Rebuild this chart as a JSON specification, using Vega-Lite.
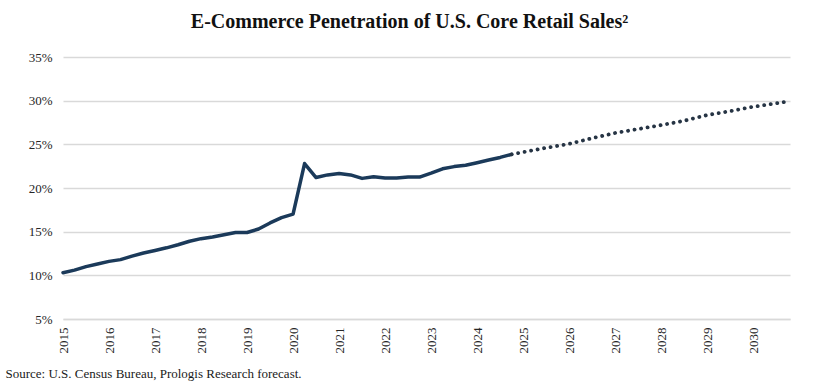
{
  "$schema": "https://vega.github.io/schema/vega-lite/v6.json",
  "autosize": {"type": "none"},
  "width": 727,
  "height": 262,
  "padding": {"top": 57, "left": 63, "right": 30, "bottom": 62},
  "background": "white",
  "title": {
    "text": "E-Commerce Penetration of U.S. Core Retail Sales²",
    "font": "Liberation Serif",
    "fontSize": 20,
    "fontWeight": "bold",
    "color": "#111111",
    "anchor": "middle",
    "dx": -17,
    "offset": 19
  },
  "config": {
    "view": {"stroke": null},
    "font": "Liberation Serif"
  },
  "data": {
    "values": [
      {"t": 2015.00, "v": 10.3, "s": "Actual"},
      {"t": 2015.25, "v": 10.6, "s": "Actual"},
      {"t": 2015.50, "v": 11.0, "s": "Actual"},
      {"t": 2015.75, "v": 11.3, "s": "Actual"},
      {"t": 2016.00, "v": 11.6, "s": "Actual"},
      {"t": 2016.25, "v": 11.8, "s": "Actual"},
      {"t": 2016.50, "v": 12.2, "s": "Actual"},
      {"t": 2016.75, "v": 12.55, "s": "Actual"},
      {"t": 2017.00, "v": 12.85, "s": "Actual"},
      {"t": 2017.25, "v": 13.15, "s": "Actual"},
      {"t": 2017.50, "v": 13.5, "s": "Actual"},
      {"t": 2017.75, "v": 13.9, "s": "Actual"},
      {"t": 2018.00, "v": 14.2, "s": "Actual"},
      {"t": 2018.25, "v": 14.4, "s": "Actual"},
      {"t": 2018.50, "v": 14.65, "s": "Actual"},
      {"t": 2018.75, "v": 14.9, "s": "Actual"},
      {"t": 2019.00, "v": 14.9, "s": "Actual"},
      {"t": 2019.25, "v": 15.3, "s": "Actual"},
      {"t": 2019.50, "v": 16.0, "s": "Actual"},
      {"t": 2019.75, "v": 16.6, "s": "Actual"},
      {"t": 2020.00, "v": 17.0, "s": "Actual"},
      {"t": 2020.25, "v": 22.8, "s": "Actual"},
      {"t": 2020.50, "v": 21.2, "s": "Actual"},
      {"t": 2020.75, "v": 21.5, "s": "Actual"},
      {"t": 2021.00, "v": 21.65, "s": "Actual"},
      {"t": 2021.25, "v": 21.5, "s": "Actual"},
      {"t": 2021.50, "v": 21.1, "s": "Actual"},
      {"t": 2021.75, "v": 21.3, "s": "Actual"},
      {"t": 2022.00, "v": 21.15, "s": "Actual"},
      {"t": 2022.25, "v": 21.15, "s": "Actual"},
      {"t": 2022.50, "v": 21.25, "s": "Actual"},
      {"t": 2022.75, "v": 21.25, "s": "Actual"},
      {"t": 2023.00, "v": 21.7, "s": "Actual"},
      {"t": 2023.25, "v": 22.2, "s": "Actual"},
      {"t": 2023.50, "v": 22.45, "s": "Actual"},
      {"t": 2023.75, "v": 22.6, "s": "Actual"},
      {"t": 2024.00, "v": 22.9, "s": "Actual"},
      {"t": 2024.25, "v": 23.2, "s": "Actual"},
      {"t": 2024.50, "v": 23.5, "s": "Actual"},
      {"t": 2024.75, "v": 23.85, "s": "Actual"},
      {"t": 2024.75, "v": 23.85, "s": "Forecast"},
      {"t": 2025.00, "v": 24.1, "s": "Forecast"},
      {"t": 2025.50, "v": 24.6, "s": "Forecast"},
      {"t": 2026.00, "v": 25.05, "s": "Forecast"},
      {"t": 2026.50, "v": 25.7, "s": "Forecast"},
      {"t": 2027.00, "v": 26.3, "s": "Forecast"},
      {"t": 2027.50, "v": 26.75, "s": "Forecast"},
      {"t": 2028.00, "v": 27.2, "s": "Forecast"},
      {"t": 2028.50, "v": 27.7, "s": "Forecast"},
      {"t": 2029.00, "v": 28.35, "s": "Forecast"},
      {"t": 2029.50, "v": 28.8, "s": "Forecast"},
      {"t": 2030.00, "v": 29.3, "s": "Forecast"},
      {"t": 2030.75, "v": 29.9, "s": "Forecast"}
    ]
  },
  "encoding": {
    "x": {
      "field": "t",
      "type": "quantitative",
      "scale": {"domain": [2015, 2030.8], "nice": false, "zero": false},
      "axis": {
        "values": [2015, 2016, 2017, 2018, 2019, 2020, 2021, 2022, 2023, 2024, 2025, 2026, 2027, 2028, 2029, 2030],
        "format": "d",
        "labelAngle": -90,
        "labelAlign": "right",
        "labelBaseline": "middle",
        "labelFont": "Liberation Serif",
        "labelFontSize": 13,
        "labelColor": "#262626",
        "labelPadding": 8,
        "labelOverlap": false,
        "ticks": false,
        "grid": false,
        "domainColor": "#d9d9d9",
        "domainWidth": 1.5,
        "title": "Source: U.S. Census Bureau, Prologis Research forecast.",
        "titleFont": "Liberation Serif",
        "titleFontSize": 13,
        "titleFontWeight": "normal",
        "titleColor": "#1a1a1a",
        "titleAnchor": "start",
        "titleAlign": "left",
        "titleBaseline": "alphabetic",
        "titleX": -58,
        "titleY": 58
      }
    },
    "y": {
      "field": "v",
      "type": "quantitative",
      "scale": {"domain": [5, 35], "nice": false, "zero": false},
      "axis": {
        "values": [5, 10, 15, 20, 25, 30, 35],
        "labelExpr": "datum.value + '%'",
        "labelFont": "Liberation Serif",
        "labelFontSize": 13,
        "labelColor": "#262626",
        "labelPadding": 11,
        "ticks": false,
        "domain": false,
        "gridColor": "#d9d9d9",
        "gridWidth": 1.5,
        "title": null
      }
    }
  },
  "layer": [
    {
      "transform": [{"filter": "datum.s == 'Actual'"}],
      "mark": {"type": "line", "color": "#1b3a5a", "strokeWidth": 3.5, "strokeJoin": "round", "strokeCap": "round"}
    },
    {
      "transform": [{"filter": "datum.s == 'Forecast'"}],
      "mark": {"type": "line", "color": "#263444", "strokeWidth": 3.8, "strokeCap": "round", "strokeDash": [0.1, 6.5]}
    }
  ]
}
